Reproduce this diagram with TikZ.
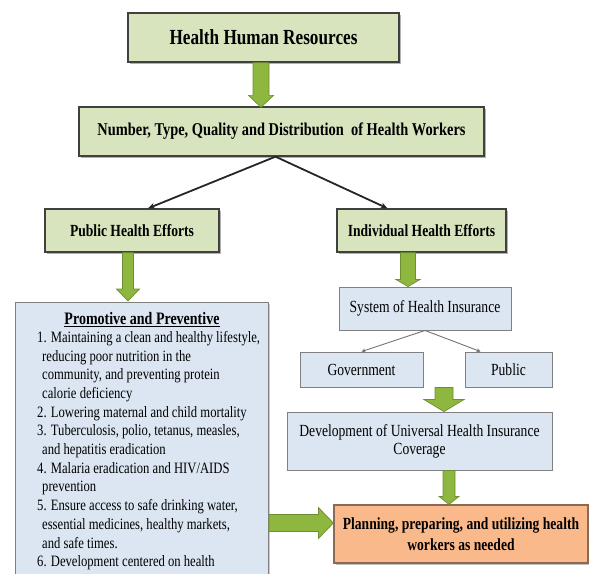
\documentclass[tikz,border=0pt]{standalone}
\usepackage{fontspec}
\setmainfont[FakeStretch=0.8]{Liberation Serif}
\usetikzlibrary{calc}
\usetikzlibrary{arrows.meta}
\usetikzlibrary{shadows}

\definecolor{boxgreen}{HTML}{D7E4BD}
\definecolor{boxblue}{HTML}{DCE6F2}
\definecolor{boxorange}{HTML}{FAB98A}
\definecolor{orangeedge}{HTML}{8A6A52}
\definecolor{arrowgreen}{HTML}{8DB73F}
\definecolor{arrowedge}{HTML}{6F8E32}

\tikzset{
 greenbox/.style={draw=black!75, line width=1.3pt, fill=boxgreen, inner sep=0,
  drop shadow={shadow xshift=1.5pt, shadow yshift=-1.5pt, opacity=.6}},
 bluebox/.style={draw=black!50, line width=.9pt, fill=boxblue, inner sep=0,
  drop shadow={shadow xshift=1.2pt, shadow yshift=-1.2pt, opacity=.4}},
 orangebox/.style={draw=orangeedge, line width=1.2pt, fill=boxorange, inner sep=0,
  drop shadow={shadow xshift=1.5pt, shadow yshift=-1.5pt, opacity=.5}},
 greenarrow/.style={fill=arrowgreen, draw=arrowedge, line width=.7pt},
 blackline/.style={draw=black!85, line width=1.8pt, -{Stealth[length=7pt,width=6pt]}},
 grayline/.style={draw=black!55, line width=.9pt, -{Stealth[length=4pt,width=4pt]}}
}

% block arrows: start, tip, half shaft, half head, head length
\newcommand{\greendown}[5]{%
 \path (#1) coordinate (gtop) (#2) coordinate (gtip);
 \filldraw[greenarrow] let \p1=(gtop), \p2=(gtip) in
  (\x1-#3pt,\y1) -- (\x1+#3pt,\y1) -- (\x1+#3pt,\y2+#5pt) -- (\x1+#4pt,\y2+#5pt)
  -- (\x1,\y2) -- (\x1-#4pt,\y2+#5pt) -- (\x1-#3pt,\y2+#5pt) -- cycle;}
\newcommand{\greenright}[5]{%
 \path (#1) coordinate (gtail) (#2) coordinate (gtip);
 \filldraw[greenarrow] let \p1=(gtail), \p2=(gtip) in
  (\x1,\y1+#3pt) -- (\x2-#5pt,\y1+#3pt) -- (\x2-#5pt,\y1+#4pt) -- (\x2,\y1)
  -- (\x2-#5pt,\y1-#4pt) -- (\x2-#5pt,\y1-#3pt) -- (\x1,\y1-#3pt) -- cycle;}

\begin{document}
\begin{tikzpicture}[x=1pt, y=-1pt]
\fill[white] (0,0) rectangle (589,573);
\useasboundingbox (0,0) rectangle (589,573);
\clip (0,0) rectangle (589,573);

% top part
\node[greenbox, minimum width=271pt, minimum height=49pt, font=\fontsize{21.5}{25}\selectfont\bfseries] (hhr) at (263.5,37.5) {Health Human Resources};
\node[greenbox, minimum width=405pt, minimum height=49pt, font=\fontsize{18}{22}\selectfont\bfseries] (nthw) at (281.5,131.5) {Number, Type, Quality and Distribution\ \ of Health Workers};
\node[greenbox, minimum width=174pt, minimum height=43pt, font=\fontsize{17}{20}\selectfont\bfseries] (phe) at (132,230.5) {Public Health Efforts};
\node[greenbox, minimum width=169pt, minimum height=43pt, font=\fontsize{17}{20}\selectfont\bfseries] (ihe) at (421.5,230.5) {Individual Health Efforts};

% public side
\node[bluebox, anchor=north west, minimum width=253pt, minimum height=300pt] (promo) at (15,302) {};
\node[font=\fontsize{17.5}{20}\selectfont\bfseries] (promohead) at (142,320) {\underline{Promotive and Preventive}};
\node[anchor=north west, inner sep=0, align=left, font=\fontsize{15.8}{18.7}\selectfont] (promolist) at (37,331) {%
1. Maintaining a clean and healthy lifestyle,\\
\hspace*{5pt}reducing poor nutrition in the\\
\hspace*{5pt}community, and preventing protein\\
\hspace*{5pt}calorie deficiency\\
2. Lowering maternal and child mortality\\
3. Tuberculosis, polio, tetanus, measles,\\
\hspace*{5pt}and hepatitis eradication\\
4. Malaria eradication and HIV/AIDS\\
\hspace*{5pt}prevention\\
5. Ensure access to safe drinking water,\\
\hspace*{5pt}essential medicines, healthy markets,\\
\hspace*{5pt}and safe times.\\
6. Development centered on health};

% individual side
\node[bluebox, minimum width=172pt, minimum height=43pt, font=\fontsize{17}{20}\selectfont] (shi) at (425,308.5) {System of Health Insurance};
\node[bluebox, minimum width=123pt, minimum height=35pt, font=\fontsize{17}{20}\selectfont] (gov) at (361.5,369.5) {Government};
\node[bluebox, minimum width=87pt, minimum height=35pt, font=\fontsize{17}{20}\selectfont] (pub) at (508.5,369.5) {Public};
\node[bluebox, minimum width=265pt, minimum height=58pt, align=center, font=\fontsize{17}{18}\selectfont] (uhic) at (419.5,441) {Development of Universal Health Insurance\\Coverage};
\node[orangebox, minimum width=254pt, minimum height=58pt, align=center, font=\fontsize{17}{21}\selectfont\bfseries] (plan) at (461,534) {Planning, preparing, and utilizing health\\workers as needed};

% connectors
\draw[blackline] ($(nthw.south)+(-6,0)$) -- ($(phe.north)+(16,0)$);
\draw[blackline] ($(nthw.south)+(-6,0)$) -- ($(ihe.north)+(-34,0)$);
\draw[grayline] (shi.south) -- (gov.north);
\draw[grayline] (shi.south) -- ($(pub.north)+(-28,0)$);

\greendown{$(hhr.south)+(-2.5,0)$}{$(nthw.north)+(0,1)$}{8}{12.5}{12}
\greendown{$(phe.south)+(-4,0)$}{$(promo.north)+(0,-1)$}{5.5}{11.5}{12}
\greendown{$(ihe.south)+(-13.5,0)$}{shi.north}{7.5}{12}{7}
\greendown{$(gov.south east)!.5!(pub.south west)$}{uhic.north}{9}{20}{12}
\greendown{$(uhic.south)+(29.5,0)$}{plan.north}{6}{10}{8}
\greenright{$(promo.east |- plan.west)+(0,-11)$}{plan.west}{8.5}{15.5}{15}
\end{tikzpicture}
\end{document}
